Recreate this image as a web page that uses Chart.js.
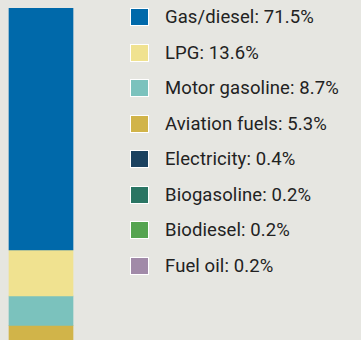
<!DOCTYPE html>
<html lang="en">
<head>
  <meta charset="UTF-8">
  <title>Fuel mix</title>
  <script src="https://cdn.jsdelivr.net/npm/chart.js"></script>
  <style>
    html, body { margin: 0; padding: 0; }
    body {
      width: 361px;
      height: 340px;
      background: #e6e6e1;
      overflow: hidden;
      position: relative;
      font-family: Roboto, "Open Sans", sans-serif;
    }
    .barra {
      position: absolute;
      left: 0;
      top: 8px;
      width: 82px;
      height: 332px;
    }
    #legenda {
      position: absolute;
      left: 130px;
      top: 8px;
      margin: 0;
      padding: 0;
      list-style: none;
    }
    #legenda li {
      height: 35.5px;
      position: relative;
    }
    #legenda .caixa {
      position: absolute;
      left: 0;
      top: 0;
      width: 17px;
      height: 16px;
      border: 1px solid #ffffff;
    }
    #legenda .texto {
      position: absolute;
      left: 35px;
      top: -2px;
      line-height: 22px;
      font-size: 18.5px;
      letter-spacing: 0.1px;
      color: #222222;
      white-space: nowrap;
    }
  </style>
</head>
<body>
  <div class="barra">
    <canvas id="grafico" width="82" height="332"></canvas>
  </div>
  <ul id="legenda"></ul>

  <script>
    const fontes = ['Gas/diesel', 'LPG', 'Motor gasoline', 'Aviation fuels', 'Electricity', 'Biogasoline', 'Biodiesel', 'Fuel oil'];
    const percentuais = [71.5, 13.6, 8.7, 5.3, 0.4, 0.2, 0.2, 0.2];
    const cores = ['#0069aa', '#f0e290', '#7bc2bd', '#d1b449', '#1b4260', '#2a7563', '#55a450', '#a18aa8'];

    // one dataset per fuel, stacked from the top down
    const datasets = fontes.map((nome, i) => ({
      label: nome,
      data: [percentuais[i]],
      backgroundColor: cores[i],
      borderWidth: 0,
      barThickness: 64
    }));

    const grafico = new Chart(document.getElementById('grafico'), {
      type: 'bar',
      data: {
        labels: ['Total'],
        datasets: datasets
      },
      options: {
        responsive: false,
        animation: false,
        layout: { padding: 0 },
        plugins: {
          legend: { display: false },
          tooltip: { enabled: false }
        },
        scales: {
          x: { stacked: true, display: false },
          y: { stacked: true, display: false, reverse: true, min: 0, max: 98.1 }
        }
      }
    });

    // legend list built from the chart datasets
    const legenda = document.getElementById('legenda');
    grafico.data.datasets.forEach(ds => {
      const li = document.createElement('li');
      li.innerHTML = '<span class="caixa" style="background:' + ds.backgroundColor + '"></span>' +
        '<span class="texto">' + ds.label + ': ' + ds.data[0] + '%</span>';
      legenda.appendChild(li);
    });
  </script>
</body>
</html>
